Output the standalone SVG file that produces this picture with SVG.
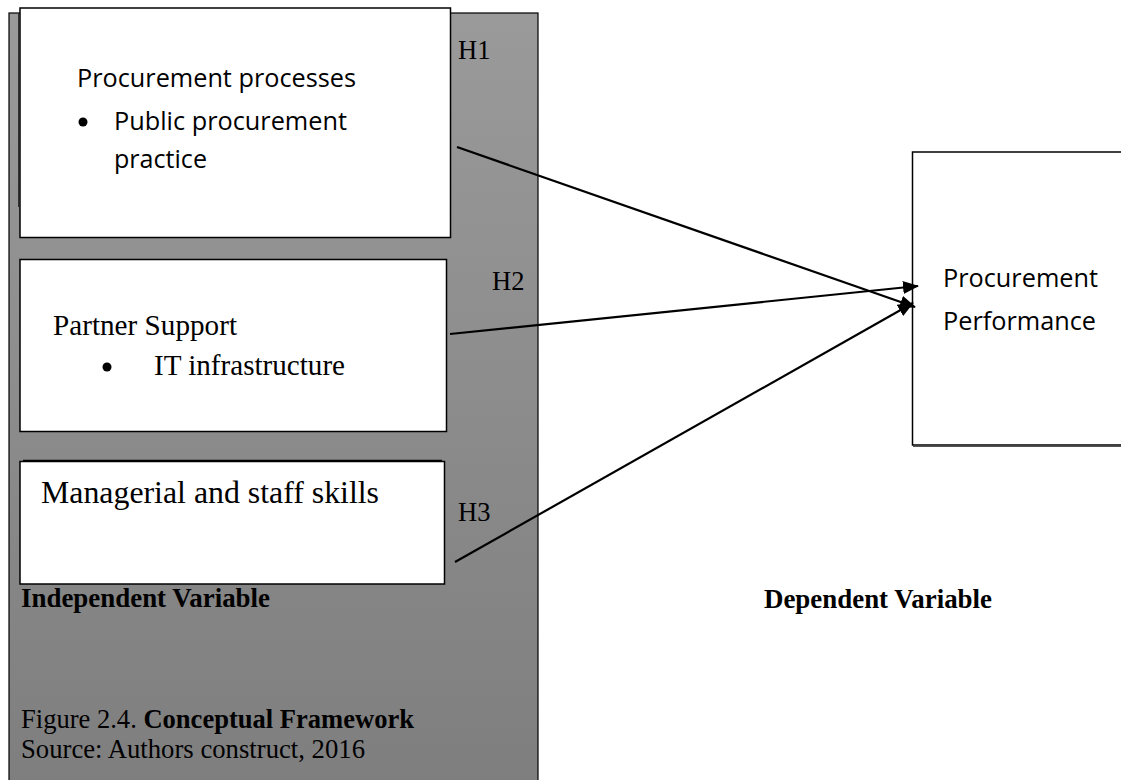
<svg xmlns="http://www.w3.org/2000/svg" width="1121" height="780" viewBox="0 0 1121 780">
<style>
.box{fill:#ffffff;stroke:#000000;stroke-width:1.5}
.sans{font-family:"Open Sans","Liberation Sans",sans-serif;font-size:26px;fill:#000}
.serif{font-family:"Liberation Serif","Times New Roman",serif;fill:#000}
.b{font-weight:bold}
.conn{stroke:#000;stroke-width:2.2;fill:none;marker-end:url(#arrow)}
</style>
<defs>
<linearGradient id="panelGrad" x1="0" y1="0" x2="0" y2="1">
<stop offset="0" stop-color="#9a9a9a"/>
<stop offset="1" stop-color="#7e7e7e"/>
</linearGradient>
<marker id="arrow" markerUnits="userSpaceOnUse" markerWidth="16" markerHeight="13" refX="15" refY="6.5" orient="auto">
<path d="M0,0 L16,6.5 L0,13 Z" fill="#000"/>
</marker>
</defs>
<g id="panel">
<rect x="9" y="13" width="529" height="780" fill="url(#panelGrad)" stroke="#000" stroke-width="1.2"/>
</g>
<g id="node-procurement-processes">
<line x1="18.5" y1="13" x2="18.5" y2="207" stroke="#333" stroke-width="1"/>
<rect class="box" x="20" y="8" width="430.5" height="229.5"/>
<text class="sans" x="77" y="87" textLength="279" lengthAdjust="spacingAndGlyphs">Procurement processes</text>
<circle cx="83" cy="122" r="4.5" fill="#000"/>
<text class="sans" x="114" y="130" textLength="233" lengthAdjust="spacingAndGlyphs">Public procurement</text>
<text class="sans" x="114" y="168" textLength="93" lengthAdjust="spacingAndGlyphs">practice</text>
</g>
<g id="node-partner-support">
<rect class="box" x="20" y="259.5" width="426.5" height="172"/>
<text class="serif" x="53" y="335" font-size="29" textLength="184" lengthAdjust="spacingAndGlyphs">Partner Support</text>
<circle cx="107" cy="367" r="4.5" fill="#000"/>
<text class="serif" x="154" y="375" font-size="29" textLength="191" lengthAdjust="spacingAndGlyphs">IT infrastructure</text>
</g>
<g id="node-managerial-skills">
<rect class="box" x="20" y="461.5" width="424.5" height="122.5"/>
<line x1="23" y1="460.8" x2="442" y2="460.8" stroke="#000" stroke-width="2"/>
<text class="serif" x="41" y="503" font-size="31.5" textLength="338" lengthAdjust="spacingAndGlyphs">Managerial and staff skills</text>
</g>
<g id="node-procurement-performance">
<rect class="box" x="912.5" y="152" width="240" height="293"/>
<line x1="913" y1="446.5" x2="1121" y2="446.5" stroke="#555" stroke-width="1"/>
<text class="sans" x="943" y="287" textLength="155" lengthAdjust="spacingAndGlyphs">Procurement</text>
<text class="sans" x="943" y="330" textLength="153" lengthAdjust="spacingAndGlyphs">Performance</text>
</g>
<g id="connectors">
<line class="conn" x1="457" y1="147" x2="915" y2="307"/>
<line class="conn" x1="450" y1="334" x2="918" y2="286"/>
<line class="conn" x1="455" y1="562" x2="913" y2="303"/>
</g>
<g id="labels">
<text class="serif" x="458" y="59" font-size="26.5">H1</text>
<text class="serif" x="492" y="290" font-size="26.5">H2</text>
<text class="serif" x="458" y="521" font-size="26.5">H3</text>
<text class="serif b" x="21" y="607" font-size="26.5" textLength="249" lengthAdjust="spacingAndGlyphs">Independent Variable</text>
<text class="serif b" x="764" y="608" font-size="26.5" textLength="228" lengthAdjust="spacingAndGlyphs">Dependent Variable</text>
<text class="serif" x="21" y="728" font-size="26.5" textLength="393" lengthAdjust="spacingAndGlyphs">Figure 2.4. <tspan class="b">Conceptual Framework</tspan></text>
<text class="serif" x="21" y="758" font-size="26.5" textLength="344" lengthAdjust="spacingAndGlyphs">Source: Authors construct, 2016</text>
</g>
</svg>
